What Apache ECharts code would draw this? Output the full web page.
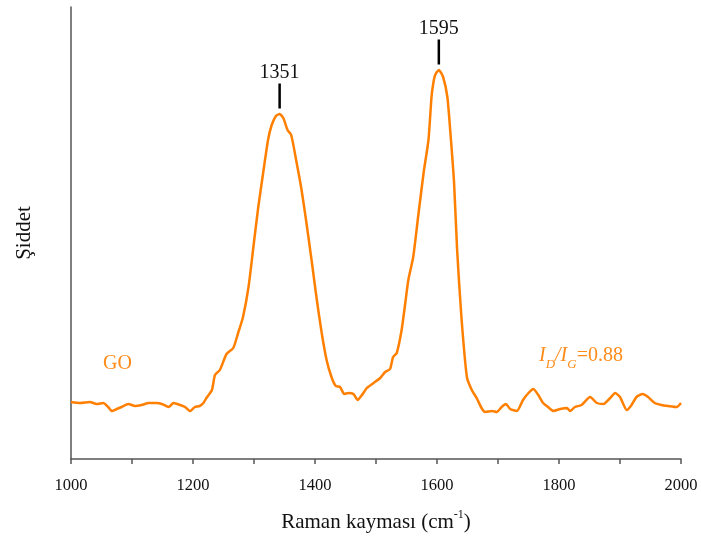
<!DOCTYPE html>
<html>
<head>
<meta charset="utf-8">
<script src="https://cdn.jsdelivr.net/npm/echarts@6/dist/echarts.min.js"></script>
<style>
html,body{margin:0;padding:0;background:#fff;}
#chart{width:701px;height:541px;}
</style>
</head>
<body>
<div id="chart"></div>
<script>
// Raman shift (cm^-1)
var ramanShift = [1000,1015,1031,1042,1053,1061,1067,1075,1083,1094,
1105,1116,1127,1140,1149,1160,1168,1179,1187,1195,
1203,1211,1217,1222,1231,1236,1244,1255,1266,1274,
1282,1291,1299,1307,1315,1323,1329,1336,1342,1348,
1355,1361,1370,1378,1386,1395,1403,1411,1419,1427,
1434,1441,1448,1455,1463,1470,1477,1485,1496,1507,
1515,1523,1528,1534,1542,1548,1553,1561,1569,1578,
1586,1591,1594,1597,1603,1610,1617,1622,1628,1633,1640,
1649,1657,1665,1673,1679,1690,1698,1706,1713,1720,
1731,1741,1750,1758,1766,1774,1782,1791,1802,1813,
1818,1826,1837,1851,1862,1873,1884,1892,1900,1911,
1919,1927,1937,1946,1957,1968,1979,1993,2000];
// Intensity (a.u.)
var intensity = [57,56,57,55,56,52,48,50,52,55,
53,54,56,56,55,52,56,54,52,48,
52,53,56,61,69,84,89,105,111,126,
142,172,212,252,286,319,334,343,345,341,
329,324,296,269,236,196,159,126,99,82,
73,72,65,66,65,59,64,71,76,81,
87,90,102,106,129,156,179,202,242,286,
319,362,376,384,389,382,362,326,276,209,142,
82,69,61,51,47,48,47,52,55,50,
48,59,66,70,64,56,52,48,50,51,
48,52,54,62,56,55,61,66,62,49,
54,62,65,62,56,54,53,52,56];
// Peak annotations
var peakShift = [1342, 1603];
var peakIntensity = [345, 389];
var peakLabels = ['1351', '1595'];
var xTickLabels = ['1000','1200','1400','1600','1800','2000'];

var serif = '"Liberation Serif","Times New Roman",serif';
var orange = '#ff7f00';
var axisColor = '#555';

var seriesData = ramanShift.map(function(x, i){ return [x, intensity[i]]; });
var markData = peakShift.map(function(x, i){
  return { name: peakLabels[i], coord: [x, peakIntensity[i]] };
});

var chart = echarts.init(document.getElementById('chart'));
chart.setOption({
  animation: false,
  backgroundColor: '#fff',
  grid: { left: 71, right: 20, top: 7, bottom: 82 },
  xAxis: {
    type: 'value', min: 1000, max: 2000, interval: 200,
    name: 'Raman kayması (cm{sup|-1})',
    nameLocation: 'middle', nameGap: 50,
    nameTextStyle: {
      fontFamily: serif, fontSize: 21, color: '#111',
      rich: {
        sup: { fontFamily: serif, fontSize: 12, lineHeight: 12, verticalAlign: 'top', color: '#111' }
      },
      lineHeight: 26
    },
    axisLine: { show: true, onZero: false, lineStyle: { color: axisColor, width: 1.5 } },
    axisTick: { show: true, inside: false, length: 5, lineStyle: { color: axisColor, width: 1.5 } },
    minorTick: { show: true, splitNumber: 2, length: 5, lineStyle: { color: axisColor, width: 1.5 } },
    splitLine: { show: false },
    minorSplitLine: { show: false },
    axisLabel: {
      fontFamily: serif, fontSize: 16.5, color: '#111', margin: 18,
      formatter: function(v){ return xTickLabels.indexOf(String(v)) >= 0 ? String(v) : ''; }
    }
  },
  yAxis: {
    type: 'value', min: 0, max: 452,
    name: 'Şiddet', nameLocation: 'middle', nameGap: 36, nameRotate: 90,
    nameTextStyle: { fontFamily: serif, fontSize: 21, color: '#111' },
    axisLine: { show: true, lineStyle: { color: axisColor, width: 1.5 } },
    axisTick: { show: false },
    axisLabel: { show: false },
    splitLine: { show: false }
  },
  series: [{
    type: 'line',
    data: seriesData,
    showSymbol: false,
    smooth: 0.2,
    lineStyle: { color: orange, width: 2.5 },
    itemStyle: { color: orange },
    markPoint: {
      symbol: 'rect',
      symbolSize: [2.5, 25],
      symbolOffset: [0, -18],
      itemStyle: { color: '#000' },
      label: {
        show: true, position: 'top', distance: 1,
        formatter: '{b}', fontFamily: serif, fontSize: 20, color: '#111'
      },
      data: markData
    }
  }],
  graphic: [
    {
      type: 'text', left: 103, top: 354,
      style: { text: 'GO', font: '20px ' + serif, fill: '#ff8c1a' }
    },
    {
      type: 'text', left: 539, top: 346,
      style: {
        text: '{i|I}{sub|D}{i|/I}{sub|G}{n|=0.88}',
        fill: '#ff8c1a',
        rich: {
          i: { fontFamily: serif, fontStyle: 'italic', fontSize: 20, lineHeight: 30, fill: '#ff8c1a' },
          n: { fontFamily: serif, fontSize: 20, lineHeight: 30, fill: '#ff8c1a' },
          sub: { fontFamily: serif, fontStyle: 'italic', fontSize: 13, lineHeight: 13, verticalAlign: 'bottom', fill: '#ff8c1a' }
        }
      }
    }
  ]
});
</script>
</body>
</html>
